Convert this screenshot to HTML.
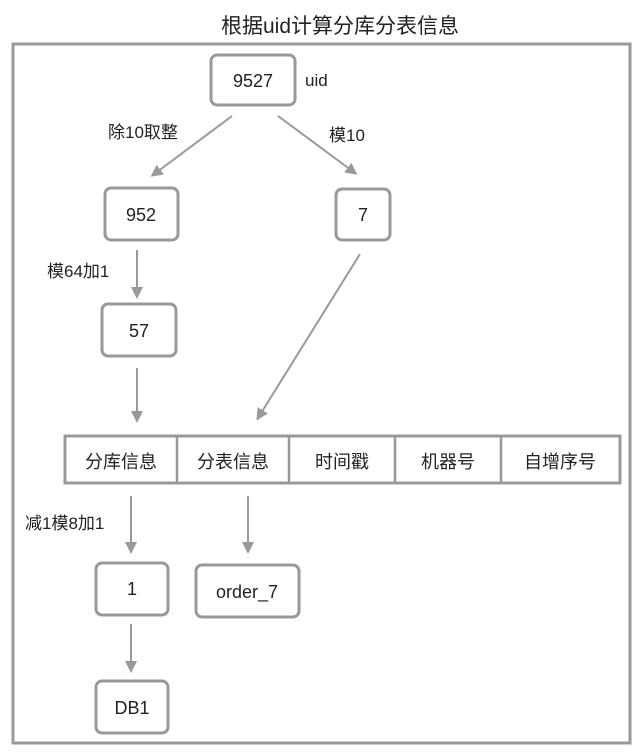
<!DOCTYPE html>
<html><head><meta charset="utf-8"><style>
body{margin:0;background:#fff;width:640px;height:754px;overflow:hidden}
svg{display:block}
text{font-family:"Liberation Sans","Noto Sans CJK SC",sans-serif;fill:#222}
</style></head><body>
<svg width="640" height="754" viewBox="0 0 640 754">
<defs><marker id="a" markerWidth="12" markerHeight="12" refX="9" refY="6" orient="auto" markerUnits="userSpaceOnUse" viewBox="0 0 12 12"><path d="M0,0 L12,6 L0,12 z" fill="#999"/></marker></defs>
<text x="340" y="33" font-size="21" text-anchor="middle">根据uid计算分库分表信息</text>
<rect x="13" y="44" width="617" height="699" fill="none" stroke="#999" stroke-width="3"/>
<g fill="#fff" stroke="#999" stroke-width="3">
<rect x="211" y="55" width="84" height="50" rx="6"/>
<rect x="105" y="188" width="73" height="52" rx="6"/>
<rect x="336" y="189" width="54" height="51" rx="6"/>
<rect x="102" y="304" width="74" height="52" rx="6"/>
<rect x="65" y="436" width="555" height="47"/>
<rect x="96" y="563" width="72" height="52" rx="6"/>
<rect x="196" y="565" width="103" height="52" rx="6"/>
<rect x="96" y="681" width="72" height="52" rx="6"/>
</g>
<g stroke="#999" stroke-width="2.5">
<line x1="177" y1="436" x2="177" y2="483"/><line x1="289" y1="436" x2="289" y2="483"/>
<line x1="395" y1="436" x2="395" y2="483"/><line x1="501" y1="436" x2="501" y2="483"/>
</g>
<g stroke="#999" stroke-width="2" marker-end="url(#a)">
<line x1="232" y1="116" x2="153" y2="175"/>
<line x1="278" y1="116" x2="355" y2="173"/>
<line x1="137" y1="250" x2="137" y2="296"/>
<line x1="137" y1="368" x2="137" y2="420"/>
<line x1="360" y1="254" x2="258" y2="418"/>
<line x1="131" y1="496" x2="131" y2="551"/>
<line x1="248" y1="496" x2="248" y2="551"/>
<line x1="131" y1="624" x2="131" y2="670"/>
</g>
<g font-size="18" text-anchor="middle">
<text x="253" y="87">9527</text>
<text x="141" y="221">952</text>
<text x="363" y="221">7</text>
<text x="139" y="337">57</text>
<text x="121" y="468">分库信息</text>
<text x="233" y="468">分表信息</text>
<text x="342" y="468">时间戳</text>
<text x="448" y="468">机器号</text>
<text x="560" y="468">自增序号</text>
<text x="132" y="595">1</text>
<text x="247" y="598">order_7</text>
<text x="132" y="714">DB1</text>
</g>
<g font-size="17">
<text x="305" y="86">uid</text>
<text x="108" y="138">除10取整</text>
<text x="329" y="141">模10</text>
<text x="47" y="277">模64加1</text>
<text x="25" y="529">减1模8加1</text>
</g>
</svg>
</body></html>
